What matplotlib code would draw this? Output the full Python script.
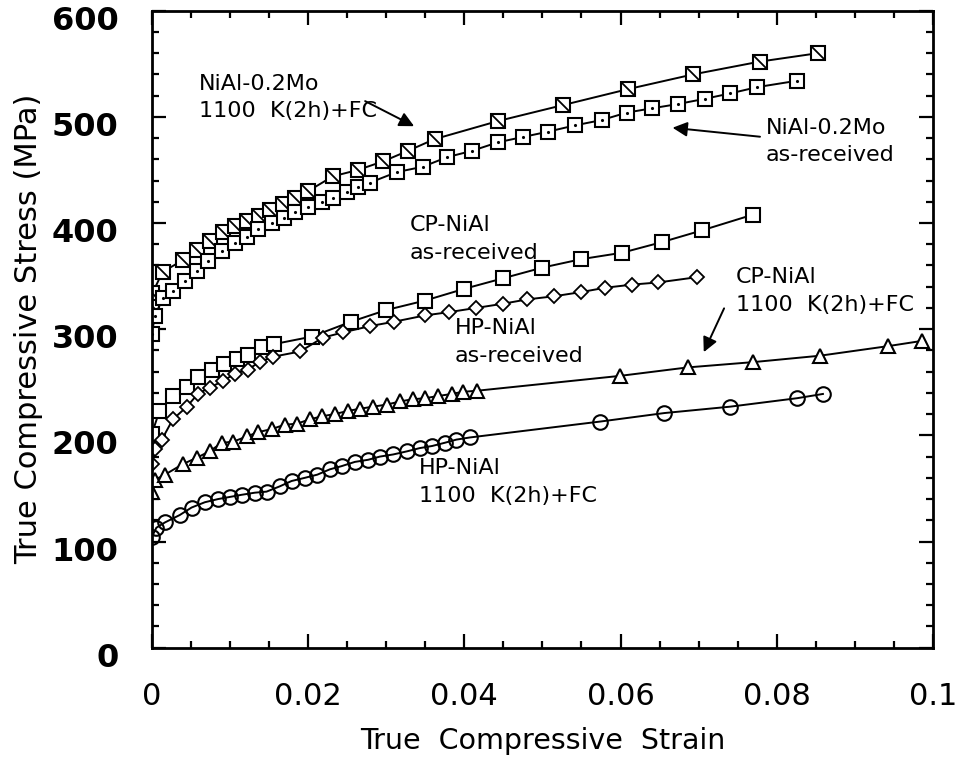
import numpy as np
import matplotlib.pyplot as plt
import matplotlib.transforms as mtransforms
from matplotlib.path import Path
from matplotlib.ticker import MultipleLocator, FixedLocator, FixedFormatter

# NiAl-0.2Mo, 1100 K(2h)+FC  (slashed squares)
mo_fc_x = [0.0, 0.0001, 0.0014, 0.0040, 0.0058, 0.0074, 0.0091, 0.0106, 0.0122,
           0.0137, 0.0152, 0.0168, 0.0183, 0.0200, 0.0232, 0.0264, 0.0296,
           0.0328, 0.0362, 0.0443, 0.0526, 0.0609, 0.0693, 0.0778, 0.0853]
mo_fc_y = [322, 334, 354, 365, 375, 383, 392, 397, 402,
           407, 412, 418, 424, 430, 444, 450, 458,
           468, 479, 496, 511, 526, 540, 552, 560]

# NiAl-0.2Mo, as-received  (squares with dot)
mo_ar_x = [0.0, 0.0004, 0.0014, 0.0027, 0.0042, 0.0058, 0.0072, 0.0090, 0.0106,
           0.0122, 0.0136, 0.0154, 0.0169, 0.0184, 0.0200, 0.0218, 0.0232, 0.0250,
           0.0264, 0.0279, 0.0314, 0.0347, 0.0378, 0.0410, 0.0443, 0.0475, 0.0507,
           0.0542, 0.0576, 0.0608, 0.0640, 0.0673, 0.0708, 0.0740, 0.0775, 0.0826]
mo_ar_y = [295, 312, 329, 336, 345, 355, 364, 374, 381,
           387, 394, 400, 405, 410, 415, 420, 424, 429,
           434, 438, 448, 453, 462, 468, 476, 481, 486,
           492, 497, 504, 508, 512, 517, 522, 528, 534]

# CP-NiAl, as-received  (squares)
cp_ar_x = [0.0, 0.0010, 0.0027, 0.0045, 0.0059, 0.0077, 0.0093, 0.0109, 0.0123,
           0.0141, 0.0157, 0.0205, 0.0255, 0.0300, 0.0350, 0.0400, 0.0450, 0.0500,
           0.0550, 0.0602, 0.0653, 0.0704, 0.0770]
cp_ar_y = [201, 223, 237, 246, 255, 262, 267, 272, 276,
           283, 286, 293, 307, 318, 327, 338, 348, 358,
           366, 372, 382, 393, 408]

# HP-NiAl, as-received  (diamonds)
hp_ar_x = [0.0, 0.0004, 0.0013, 0.0027, 0.0045, 0.0059, 0.0074, 0.0091, 0.0106,
           0.0123, 0.0138, 0.0155, 0.0190, 0.0219, 0.0245, 0.0280, 0.0310, 0.0350,
           0.0380, 0.0415, 0.0450, 0.0480, 0.0515, 0.0550, 0.0580, 0.0615, 0.0648,
           0.0698]
hp_ar_y = [173, 187, 196, 215, 227, 239, 245, 251, 258,
           262, 269, 274, 279, 292, 297, 303, 307, 313,
           316, 320, 324, 328, 331, 335, 339, 342, 344,
           349]

# CP-NiAl, 1100 K(2h)+FC  (triangles)
cp_fc_x = [0.0, 0.0004, 0.0017, 0.0040, 0.0058, 0.0074, 0.0090, 0.0104, 0.0122,
           0.0136, 0.0154, 0.0170, 0.0186, 0.0202, 0.0218, 0.0234, 0.0251, 0.0266,
           0.0283, 0.0301, 0.0318, 0.0334, 0.0350, 0.0366, 0.0384, 0.0398, 0.0416,
           0.0599, 0.0686, 0.0770, 0.0855, 0.0942, 0.0986]
cp_fc_y = [147, 158, 163, 173, 179, 185, 193, 194, 199,
           203, 206, 210, 211, 215, 218, 220, 223, 225,
           227, 229, 232, 234, 235, 237, 239, 241, 242,
           256, 264, 269, 275, 284, 289]

# HP-NiAl, 1100 K(2h)+FC  (circles)
hp_fc_x = [0.0, 0.0006, 0.0017, 0.0036, 0.0051, 0.0068, 0.0085, 0.0100, 0.0115,
           0.0132, 0.0147, 0.0164, 0.0179, 0.0196, 0.0212, 0.0228, 0.0243, 0.0260,
           0.0277, 0.0292, 0.0309, 0.0327, 0.0343, 0.0359, 0.0375, 0.0390, 0.0407,
           0.0574, 0.0656, 0.0740, 0.0826, 0.0859]
hp_fc_y = [104, 113, 118, 125, 132, 137, 140, 142, 144,
           146, 147, 152, 157, 160, 163, 168, 171, 175,
           177, 180, 182, 185, 188, 190, 193, 196, 198,
           213, 221, 227, 235, 239]

x_tick_vals = [0, 0.02, 0.04, 0.06, 0.08, 0.1]
x_tick_text = ["0", "0.02", "0.04", "0.06", "0.08", "0.1"]
y_tick_vals = [0, 100, 200, 300, 400, 500, 600]

plt.rcParams["font.family"] = "DejaVu Sans"

fig = plt.figure(figsize=(9.6, 7.62), dpi=100)
ax = fig.add_axes([0.158, 0.150, 0.814, 0.836])

lw = 1.4
ax.plot(mo_fc_x, mo_fc_y, "-", color="black", lw=lw, marker="s", ms=10,
        mfc="white", mec="black", mew=1.5)
slash = Path([(-1, 1), (1, -1)], [Path.MOVETO, Path.LINETO])
ax.plot(mo_fc_x, mo_fc_y, ls="none", marker=slash, ms=10, mec="black", mew=1.3)

ax.plot(mo_ar_x, mo_ar_y, "-", color="black", lw=lw, marker="s", ms=10,
        mfc="white", mec="black", mew=1.5)
ax.plot(mo_ar_x, mo_ar_y, ls="none", marker=".", ms=2.5, color="black")

ax.plot(cp_ar_x, cp_ar_y, "-", color="black", lw=lw, marker="s", ms=10,
        mfc="white", mec="black", mew=1.5)
ax.plot(hp_ar_x, hp_ar_y, "-", color="black", lw=lw, marker="D", ms=7,
        mfc="white", mec="black", mew=1.3)
ax.plot(cp_fc_x, cp_fc_y, "-", color="black", lw=lw, marker="^", ms=10,
        mfc="white", mec="black", mew=1.5)
ax.plot(hp_fc_x, hp_fc_y, "-", color="black", lw=lw, marker="o", ms=10.5,
        mfc="none", mec="black", mew=1.5)

ax.set_xlim(0, 0.1)
ax.set_ylim(0, 600)

ax.xaxis.set_major_locator(FixedLocator(x_tick_vals))
ax.xaxis.set_major_formatter(FixedFormatter(x_tick_text))
ax.xaxis.set_minor_locator(MultipleLocator(0.005))
ax.set_yticks(y_tick_vals)
ax.yaxis.set_minor_locator(MultipleLocator(20))
ax.tick_params(which="both", direction="in", top=True, right=True, width=1.6)
ax.tick_params(which="major", length=10)
ax.tick_params(which="minor", length=5)
ax.tick_params(axis="x", which="major", labelsize=22, pad=25)
ax.tick_params(axis="y", which="major", labelsize=23, pad=24)
shift = mtransforms.ScaledTranslation(0, -7 / 100, fig.dpi_scale_trans)
for lab in ax.get_yticklabels():
    lab.set_fontweight("bold")
    lab.set_transform(lab.get_transform() + shift)
for sp in ax.spines.values():
    sp.set_linewidth(2.0)

ax.set_xlabel("True  Compressive  Strain", fontsize=20.5, labelpad=11)
ax.set_ylabel("True Compressive Stress (MPa)", fontsize=22, labelpad=6)

fs = 16
ax.text(0.0060, 518, "NiAl-0.2Mo\n1100  K(2h)+FC", fontsize=fs, ha="left",
        va="center", linespacing=1.45)
ax.annotate("", xy=(0.0339, 490), xytext=(0.0270, 516),
            arrowprops=dict(arrowstyle="-|>", color="black", lw=1.4,
                            mutation_scale=22))
ax.text(0.0786, 477, "NiAl-0.2Mo\nas-received", fontsize=fs, ha="left",
        va="center", linespacing=1.45)
ax.annotate("", xy=(0.0663, 490), xytext=(0.0782, 481),
            arrowprops=dict(arrowstyle="-|>", color="black", lw=1.4,
                            mutation_scale=22))
ax.text(0.0330, 385, "CP-NiAl\nas-received", fontsize=fs, ha="left",
        va="center", linespacing=1.45)
ax.text(0.0388, 288, "HP-NiAl\nas-received", fontsize=fs, ha="left",
        va="center", linespacing=1.45)
ax.text(0.0748, 336, "CP-NiAl\n1100  K(2h)+FC", fontsize=fs, ha="left",
        va="center", linespacing=1.45)
ax.annotate("", xy=(0.0705, 276), xytext=(0.0734, 322),
            arrowprops=dict(arrowstyle="-|>", color="black", lw=1.4,
                            mutation_scale=22))
ax.text(0.0342, 156, "HP-NiAl\n1100  K(2h)+FC", fontsize=fs, ha="left",
        va="center", linespacing=1.45)

fig.savefig("out.png", dpi=100)
